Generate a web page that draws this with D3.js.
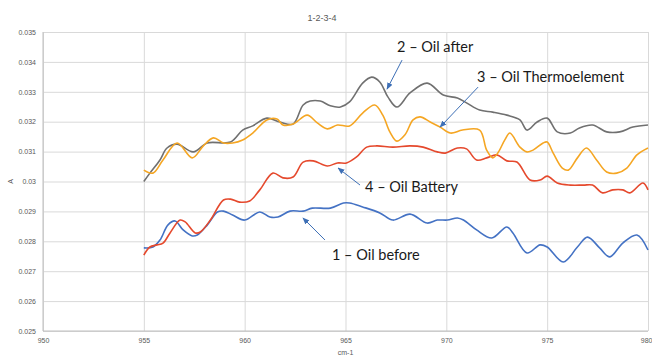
<!DOCTYPE html>
<html>
<head>
<meta charset="utf-8">
<script src="https://cdn.jsdelivr.net/npm/d3@7"></script>
<style>
  html, body { margin: 0; padding: 0; background: #fff; }
  svg { display: block; }
</style>
</head>
<body>
<svg id="chart" width="652" height="357"></svg>
<script>
// Absorbance spectra, wavenumber (cm-1) vs absorbance (A)
const xTicks = [950, 955, 960, 965, 970, 975, 980];
const yTicks = [0.025, 0.026, 0.027, 0.028, 0.029, 0.03, 0.031, 0.032, 0.033, 0.034, 0.035];

// 1 – Oil before
const oilBeforeX = [955, 955.45, 955.8, 956.2, 956.55, 956.95, 957.4, 957.65, 958.15, 958.65, 958.95, 959.4, 960.0, 960.75, 961.25, 961.65, 962.25, 962.9, 963.35, 964.25, 964.9, 965.2, 965.85, 966.7, 967.35, 968.2, 969.05, 969.55, 970.05, 970.55, 970.85, 971.5, 972.25, 973.0, 973.3, 974.0, 974.65, 975.0, 975.8, 976.5, 977.0, 977.6, 978.1, 978.75, 979.45, 980];
const oilBeforeA = [0.02778, 0.02781, 0.02804, 0.02855, 0.02868, 0.02838, 0.02818, 0.02821, 0.02855, 0.02898, 0.02901, 0.02888, 0.02871, 0.02898, 0.02881, 0.02881, 0.02901, 0.02901, 0.02911, 0.02911, 0.02928, 0.02928, 0.02915, 0.02895, 0.02871, 0.02891, 0.02861, 0.02871, 0.02871, 0.02878, 0.02871, 0.02838, 0.02811, 0.02848, 0.02828, 0.02761, 0.02788, 0.02781, 0.02731, 0.02781, 0.02814, 0.02778, 0.02748, 0.02794, 0.02821, 0.02771];

// 2 – Oil after
const oilAfterX = [955, 955.3, 955.8, 956.15, 956.65, 957.45, 958.15, 959.3, 959.9, 960.4, 961.1, 961.75, 962.4, 962.9, 963.25, 963.75, 964.25, 964.75, 965.2, 965.85, 966.3, 966.7, 967.1, 967.55, 968.2, 969.05, 969.85, 970.55, 971.0, 971.65, 972.3, 973.0, 973.65, 974.0, 974.5, 975.0, 975.5, 976.15, 976.6, 977.25, 977.95, 978.6, 979.25, 980];
const oilAfterA = [0.0300, 0.03028, 0.03072, 0.03112, 0.03125, 0.03099, 0.03129, 0.03132, 0.03172, 0.03186, 0.03212, 0.03199, 0.03192, 0.03256, 0.03269, 0.03269, 0.03253, 0.03249, 0.03266, 0.03329, 0.03349, 0.03333, 0.03283, 0.03249, 0.03296, 0.03329, 0.03289, 0.03279, 0.03263, 0.03239, 0.03232, 0.03222, 0.03206, 0.03172, 0.03199, 0.03212, 0.03166, 0.03162, 0.03179, 0.03189, 0.03166, 0.03166, 0.03182, 0.03189];

// 3 – Oil Thermoelement
const oilThermoX = [955, 955.45, 955.95, 956.65, 957.4, 957.95, 958.45, 958.95, 959.4, 959.9, 960.4, 961.1, 961.6, 961.9, 962.4, 963.1, 963.6, 964.1, 964.6, 965.2, 965.85, 966.45, 966.85, 967.2, 967.55, 967.95, 968.35, 968.7, 969.2, 969.7, 970.2, 970.8, 971.65, 972.0, 972.3, 972.55, 972.9, 973.15, 973.65, 974.0, 974.3, 974.8, 975.0, 975.3, 975.75, 976.05, 976.5, 976.95, 977.45, 977.95, 978.45, 978.95, 979.45, 980];
const oilThermoA = [0.03038, 0.03028, 0.03072, 0.03129, 0.03079, 0.03119, 0.03146, 0.03129, 0.03129, 0.03139, 0.03162, 0.03206, 0.03209, 0.03189, 0.03192, 0.03222, 0.03196, 0.03176, 0.03189, 0.03186, 0.03229, 0.03256, 0.03222, 0.03166, 0.03135, 0.03156, 0.03206, 0.03216, 0.03199, 0.03182, 0.03162, 0.03172, 0.03172, 0.03105, 0.03079, 0.03095, 0.03139, 0.03162, 0.03115, 0.03099, 0.03105, 0.03129, 0.03132, 0.03095, 0.03045, 0.03038, 0.03079, 0.03112, 0.03072, 0.03032, 0.03028, 0.03045, 0.03089, 0.03112];

// 4 – Oil Battery
const oilBatteryX = [955, 955.3, 955.65, 955.95, 956.3, 956.8, 957.05, 957.55, 957.8, 958.3, 958.95, 959.3, 959.75, 960.25, 960.75, 961.4, 961.9, 962.4, 962.9, 963.4, 964.1, 964.6, 965.05, 965.55, 966.05, 966.55, 967.35, 968.2, 968.85, 969.55, 969.95, 970.55, 971.0, 971.5, 972.0, 972.5, 973.0, 973.5, 974.15, 974.65, 975.0, 975.5, 976.15, 976.8, 977.25, 977.75, 978.25, 978.75, 979.1, 979.75, 980];
const oilBatteryA = [0.02754, 0.02781, 0.02788, 0.02794, 0.02828, 0.02871, 0.02865, 0.02828, 0.02831, 0.02871, 0.02938, 0.02941, 0.02931, 0.02935, 0.02972, 0.03028, 0.03012, 0.03015, 0.03065, 0.03069, 0.03052, 0.03062, 0.03062, 0.03082, 0.03115, 0.03119, 0.03115, 0.03119, 0.03115, 0.03099, 0.03095, 0.03112, 0.03109, 0.03072, 0.03079, 0.03089, 0.03069, 0.03065, 0.03005, 0.03005, 0.03018, 0.02995, 0.02988, 0.02988, 0.02988, 0.02962, 0.02972, 0.02972, 0.02962, 0.02995, 0.02972];

const series = [
  { name: "1 – Oil before",          xs: oilBeforeX,  ys: oilBeforeA,  color: "#4472c4" },
  { name: "4 – Oil Battery",         xs: oilBatteryX, ys: oilBatteryA, color: "#e5492d" },
  { name: "2 – Oil after",           xs: oilAfterX,   ys: oilAfterA,   color: "#707070" },
  { name: "3 – Oil Thermoelement",   xs: oilThermoX,  ys: oilThermoA,  color: "#f5a623" }
];

// Callouts: arrow tip in data space, tail and text offsets in px
const callouts = [
  { text: "2 – Oil after",         x: 967.06, a: 0.03309, tail: [15, -29], label: [10, -37] },
  { text: "3 – Oil Thermoelement", x: 969.69, a: 0.03182, tail: [38, -40], label: [37, -45] },
  { text: "4 – Oil Battery",       x: 964.63, a: 0.03045, tail: [22, 17],  label: [27, 24] },
  { text: "1 – Oil before",        x: 962.89, a: 0.02878, tail: [22, 22],  label: [29, 42] }
];

const W = 652, H = 357;
const margin = { top: 32, right: 4, bottom: 26, left: 43 };
const svg = d3.select("#chart");

const x = d3.scaleLinear().domain([950, 980]).range([margin.left, W - margin.right]);
const y = d3.scaleLinear().domain([0.025, 0.035]).range([H - margin.bottom, margin.top]);

const tickFont = "'Liberation Sans', Arial, sans-serif";

// gridlines
svg.append("g")
  .attr("transform", `translate(0,${H - margin.bottom})`)
  .call(d3.axisBottom(x).tickValues(xTicks).tickSize(-(H - margin.top - margin.bottom)).tickFormat(""))
  .call(g => g.select(".domain").remove())
  .call(g => g.selectAll("line").attr("stroke", "#d9d9d9").attr("stroke-width", 1));

svg.append("g")
  .attr("transform", `translate(${margin.left},0)`)
  .call(d3.axisLeft(y).tickValues(yTicks).tickSize(-(W - margin.left - margin.right)).tickFormat(""))
  .call(g => g.select(".domain").remove())
  .call(g => g.selectAll("line").attr("stroke", "#d9d9d9").attr("stroke-width", 1));

// axis lines
svg.append("line")
  .attr("x1", margin.left).attr("x2", margin.left)
  .attr("y1", margin.top).attr("y2", H - margin.bottom)
  .attr("stroke", "#bfbfbf");
svg.append("line")
  .attr("x1", margin.left).attr("x2", W - margin.right)
  .attr("y1", H - margin.bottom).attr("y2", H - margin.bottom)
  .attr("stroke", "#bfbfbf");

// tick labels
const xAxis = svg.append("g")
  .attr("transform", `translate(0,${H - margin.bottom})`)
  .call(d3.axisBottom(x).tickValues(xTicks).tickSize(0).tickPadding(7).tickFormat(d3.format("d")));
xAxis.select(".domain").remove();
xAxis.selectAll("text").attr("font-family", tickFont).attr("font-size", 7).attr("fill", "#595959");
// keep the last label inside the canvas
xAxis.selectAll("text").filter(d => d === 980).attr("text-anchor", "end").attr("dx", 4);

const yAxis = svg.append("g")
  .attr("transform", `translate(${margin.left},0)`)
  .call(d3.axisLeft(y).tickValues(yTicks).tickSize(0).tickPadding(7).tickFormat(d => String(+d.toFixed(3))));
yAxis.select(".domain").remove();
yAxis.selectAll("text").attr("font-family", tickFont).attr("font-size", 7).attr("fill", "#595959");

// titles
svg.append("text")
  .attr("x", 322).attr("y", 21)
  .attr("text-anchor", "middle")
  .attr("font-family", tickFont).attr("font-size", 9).attr("fill", "#595959")
  .text("1-2-3-4");

svg.append("text")
  .attr("x", (margin.left + W - margin.right) / 2).attr("y", 355)
  .attr("text-anchor", "middle")
  .attr("font-family", tickFont).attr("font-size", 7).attr("fill", "#595959")
  .text("cm-1");

svg.append("text")
  .attr("transform", `translate(13,${y(0.03)}) rotate(-90)`)
  .attr("text-anchor", "middle")
  .attr("font-family", tickFont).attr("font-size", 7).attr("fill", "#595959")
  .text("A");

// spectra
const line = d3.line()
  .x(d => x(d[0]))
  .y(d => y(d[1]))
  .curve(d3.curveCatmullRom.alpha(0.5));

svg.append("g")
  .selectAll("path")
  .data(series)
  .join("path")
  .attr("fill", "none")
  .attr("stroke", d => d.color)
  .attr("stroke-width", 1.6)
  .attr("stroke-linejoin", "round")
  .attr("d", d => line(d.xs.map((v, i) => [v, d.ys[i]])));

// callout arrows and labels
svg.append("defs").append("marker")
  .attr("id", "arrowhead")
  .attr("viewBox", "0 0 10 10")
  .attr("refX", 9).attr("refY", 5)
  .attr("markerWidth", 7).attr("markerHeight", 7)
  .attr("orient", "auto")
  .append("path")
  .attr("d", "M0,1 L10,5 L0,9 Z")
  .attr("fill", "#3d6fb6");

const co = svg.append("g");
callouts.forEach(c => {
  const tx = x(c.x), ty = y(c.a);
  co.append("line")
    .attr("x1", tx + c.tail[0]).attr("y1", ty + c.tail[1])
    .attr("x2", tx).attr("y2", ty)
    .attr("stroke", "#3d6fb6").attr("stroke-width", 1)
    .attr("marker-end", "url(#arrowhead)");
  co.append("text")
    .attr("x", tx + c.label[0]).attr("y", ty + c.label[1])
    .attr("font-family", "Lato, 'Open Sans', sans-serif")
    .attr("font-size", 14.5)
    .attr("fill", "#1a1a1a")
    .text(c.text);
});
</script>
</body>
</html>
